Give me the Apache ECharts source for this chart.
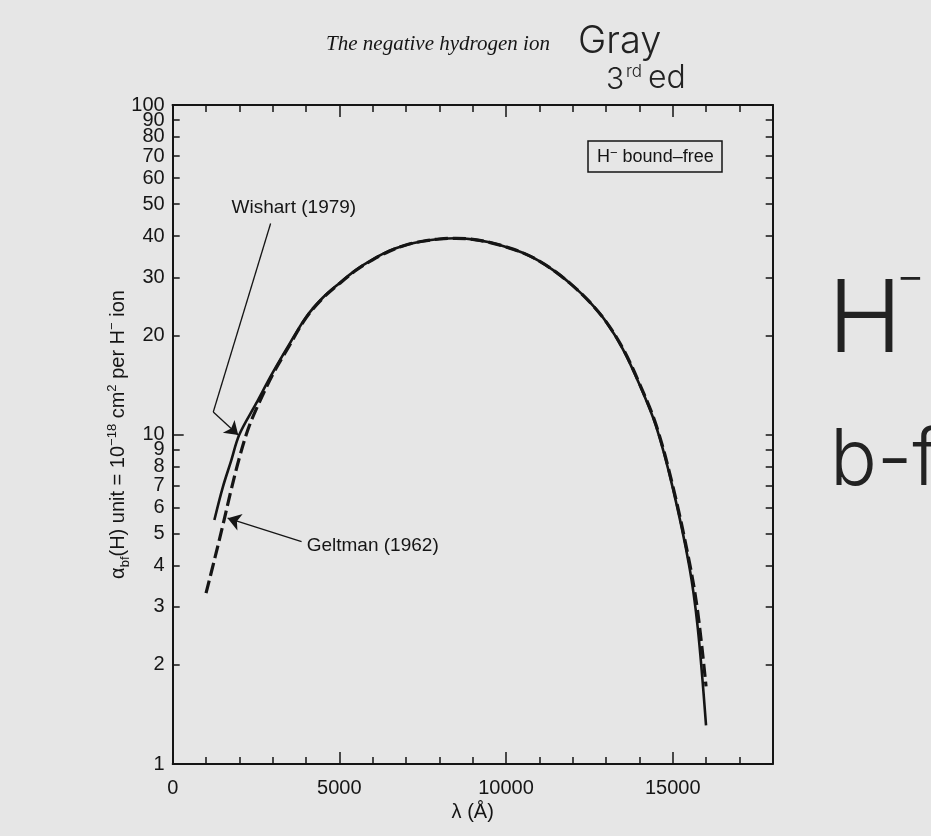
<!DOCTYPE html>
<html>
<head>
<meta charset="utf-8">
<title>H- bound-free</title>
<script src="https://cdn.jsdelivr.net/npm/echarts@6.0.0/dist/echarts.min.js"></script>
<style>
  html, body { margin: 0; padding: 0; background: #e6e6e6; }
  #chart { width: 931px; height: 836px; }
</style>
</head>
<body>
<div id="chart"></div>
<script>
// Wishart (1979) - solid curve (unit 1e-18 cm^2)
const lambdaWishart = [1250, 1500, 1750, 2000, 2500, 3000, 3500, 4000, 4500, 5000, 5500, 6000, 6500, 7000, 7500, 8000, 8500,
  9000, 9500, 10000, 10500, 11000, 11500, 12000, 12500, 13000, 13500, 14000, 14500, 15000, 15500, 15750, 16000];
const alphaWishart = [5.5, 6.9, 8.3, 10.0, 12.4, 15.4, 18.8, 22.7, 26.0, 28.8, 31.6, 34.0, 36.1, 37.6, 38.6, 39.2, 39.4,
  39.1, 38.3, 37.1, 35.6, 33.6, 31.1, 28.3, 25.3, 22.0, 18.2, 14.2, 10.6, 6.9, 3.97, 2.6, 1.31];

// Geltman (1962) - dashed curve
const lambdaGeltman = [1000, 1250, 1500, 1750, 2000, 2250, 2500, 3000, 3500, 4000, 4500, 5000, 5500, 6000, 6500, 7000, 7500, 8000, 8500,
  9000, 9500, 10000, 10500, 11000, 11500, 12000, 12500, 13000, 13500, 14000, 14500, 15000, 15500, 15750, 16000];
const alphaGeltman = [3.3, 4.16, 5.28, 6.77, 8.5, 10.3, 11.9, 15.2, 18.6, 22.6, 25.9, 28.7, 31.5, 33.9, 36.0, 37.6, 38.6, 39.2, 39.4,
  39.1, 38.3, 37.1, 35.6, 33.6, 31.1, 28.3, 25.3, 22.0, 18.3, 14.3, 10.7, 7.0, 4.1, 2.9, 1.72];

// axis ticks
const yTickValues = [1, 2, 3, 4, 5, 6, 7, 8, 9, 10, 20, 30, 40, 50, 60, 70, 80, 90, 100];
const yTopLabel = [100];
const xMinorTicks = [0, 1000, 2000, 3000, 4000, 5000, 6000, 7000, 8000, 9000, 10000, 11000, 12000, 13000, 14000, 15000, 16000, 17000];
const xMajorTicks = [0, 5000, 10000, 15000];

const ink = '#151515';
const font = 'Liberation Sans';

const chart = echarts.init(document.getElementById('chart'));

// helper for the tick-only axes (top / major ticks)
function xTickAxis(pos, values, len) {
  return {
    type: 'value', position: pos, min: 0, max: 18000,
    axisLine: { show: pos === 'top', onZero: false, lineStyle: { color: ink, width: 2 } },
    axisTick: { show: true, inside: true, length: len, customValues: values, lineStyle: { color: ink, width: 1.5 } },
    axisLabel: { show: false },
    splitLine: { show: false }
  };
}

const yLabelStyle = { margin: 8, fontFamily: font, fontSize: 20, color: ink, formatter: v => String(Math.round(v)) };

const option = {
  backgroundColor: '#e6e6e6',
  animation: false,
  title: [{
    text: '{h|H}{s|−}{h| bound–free}',
    left: 588, top: 141,
    borderColor: ink, borderWidth: 1.5,
    padding: [6, 9, 6, 9],
    textStyle: {
      fontWeight: 'normal',
      rich: {
        h: { fontFamily: font, fontSize: 18, fontWeight: 'normal', color: ink, lineHeight: 20 },
        s: { fontFamily: font, fontSize: 13, fontWeight: 'normal', color: ink, verticalAlign: 'top', lineHeight: 14 }
      }
    }
  }],
  grid: { left: 172.7, right: 158.3, top: 105, bottom: 72, containLabel: false },
  xAxis: [
    {
      type: 'value', position: 'bottom', min: 0, max: 18000,
      name: 'λ (Å)', nameLocation: 'middle', nameGap: 38,
      nameTextStyle: { fontFamily: font, fontSize: 20, color: ink },
      axisLine: { show: true, onZero: false, lineStyle: { color: ink, width: 2 } },
      axisTick: { show: true, inside: true, length: 7, customValues: xMinorTicks, lineStyle: { color: ink, width: 1.5 } },
      axisLabel: {
        customValues: xMajorTicks, margin: 14, fontFamily: font, fontSize: 20, color: ink,
        formatter: v => String(v)
      },
      splitLine: { show: false }
    },
    xTickAxis('bottom', xMajorTicks, 12),
    xTickAxis('top', xMinorTicks, 7),
    xTickAxis('top', xMajorTicks, 12)
  ],
  yAxis: [
    {
      type: 'log', logBase: 10, min: 1, max: 100, position: 'left',
      name: '{a|α}{sub|bf}{a|(H) unit = 10}{sup|−18}{a| cm}{sup|2}{a| per H}{sup|−}{a| ion}',
      nameLocation: 'middle', nameRotate: 90, nameGap: 40,
      nameTextStyle: {
        rich: {
          a: { fontFamily: font, fontSize: 20, color: ink, lineHeight: 26 },
          sub: { fontFamily: font, fontSize: 13, color: ink, verticalAlign: 'bottom', lineHeight: 14 },
          sup: { fontFamily: font, fontSize: 13, color: ink, verticalAlign: 'top', lineHeight: 14 }
        }
      },
      axisLine: { show: true, onZero: false, lineStyle: { color: ink, width: 2 } },
      axisTick: { show: true, inside: true, length: 7, customValues: yTickValues, lineStyle: { color: ink, width: 1.5 } },
      axisLabel: Object.assign({ customValues: yTickValues, showMaxLabel: false, hideOverlap: false }, yLabelStyle),
      splitLine: { show: false },
      minorTick: { show: false }
    },
    {
      type: 'log', logBase: 10, min: 1, max: 100, position: 'right',
      axisLine: { show: true, onZero: false, lineStyle: { color: ink, width: 2 } },
      axisTick: { show: true, inside: true, length: 7, customValues: yTickValues, lineStyle: { color: ink, width: 1.5 } },
      axisLabel: { show: false },
      splitLine: { show: false }
    },
    {
      // longer tick at 10 and the "100" label on its own
      type: 'log', logBase: 10, min: 1, max: 100, position: 'left',
      axisLine: { show: false },
      axisTick: { show: true, inside: true, length: 11, customValues: [10], lineStyle: { color: ink, width: 1.5 } },
      axisLabel: Object.assign({ customValues: yTopLabel, showMaxLabel: true }, yLabelStyle),
      splitLine: { show: false }
    }
  ],
  series: [
    {
      name: 'Wishart (1979)',
      type: 'line',
      data: lambdaWishart.map((l, i) => [l, alphaWishart[i]]),
      showSymbol: false,
      smooth: 0.35,
      lineStyle: { color: ink, width: 2.6, type: 'solid' },
      markLine: {
        silent: true,
        symbol: ['none', 'none'],
        label: { show: false },
        lineStyle: { color: ink, width: 1.3, type: 'solid' },
        data: [
          [{ coord: [2937, 43.7] }, { coord: [1217, 11.7] }],
          [{ coord: [1217, 11.7] }, { coord: [1966, 9.96], symbol: 'arrow', symbolSize: 13 }]
        ]
      },
      markPoint: {
        silent: true,
        data: [{
          coord: [3635, 48.7], symbol: 'circle', symbolSize: 0,
          label: { show: true, position: 'inside', formatter: 'Wishart (1979)', fontFamily: font, fontSize: 19, color: ink }
        }]
      }
    },
    {
      name: 'Geltman (1962)',
      type: 'line',
      data: lambdaGeltman.map((l, i) => [l, alphaGeltman[i]]),
      showSymbol: false,
      smooth: 0.35,
      lineStyle: { color: ink, width: 3.2, type: [13, 5] },
      markLine: {
        silent: true,
        symbol: ['none', 'none'],
        label: { show: false },
        lineStyle: { color: ink, width: 1.3, type: 'solid' },
        data: [
          [{ coord: [3866, 4.73] }, { coord: [1648, 5.57], symbol: 'arrow', symbolSize: 13 }]
        ]
      },
      markPoint: {
        silent: true,
        data: [{
          coord: [6000, 4.6], symbol: 'circle', symbolSize: 0,
          label: { show: true, position: 'inside', formatter: 'Geltman (1962)', fontFamily: font, fontSize: 19, color: ink }
        }]
      }
    }
  ],
  graphic: [
    {
      type: 'text', x: 438, y: 44,
      style: { text: 'The negative hydrogen ion', font: 'italic 21px "Liberation Serif"', fill: ink, textAlign: 'center', textVerticalAlign: 'middle' }
    },
    // handwritten notes on the scanned page
    {
      type: 'text', x: 578, y: 42,
      style: { text: 'Gray', font: '300 38px Inter', fill: '#222', textVerticalAlign: 'middle' }
    },
    {
      type: 'text', x: 606, y: 80,
      style: { text: '3', font: '300 30px Inter', fill: '#222', textVerticalAlign: 'middle' }
    },
    {
      type: 'text', x: 626, y: 72,
      style: { text: 'rd', font: '300 17px Inter', fill: '#222', textVerticalAlign: 'middle' }
    },
    {
      type: 'text', x: 648, y: 78,
      style: { text: 'ed', font: '300 32px Inter', fill: '#222', textVerticalAlign: 'middle' }
    },
    {
      type: 'text', x: 828, y: 322,
      style: { text: 'H', font: '300 100px Inter', fill: '#222', textVerticalAlign: 'middle' }
    },
    {
      type: 'text', x: 896, y: 278,
      style: { text: '−', font: '300 44px Inter', fill: '#222', textVerticalAlign: 'middle' }
    },
    {
      type: 'text', x: 830, y: 462,
      style: { text: 'b-f', font: '300 78px Inter', fill: '#222', textVerticalAlign: 'middle' }
    }
  ]
};

chart.setOption(option);
</script>
</body>
</html>
